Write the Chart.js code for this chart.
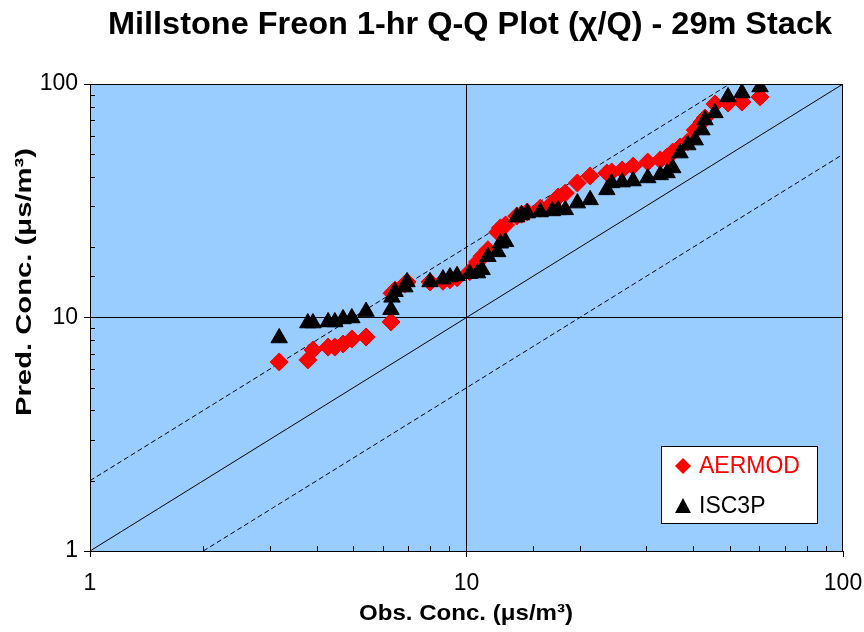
<!DOCTYPE html>
<html>
<head>
<meta charset="utf-8">
<script src="https://cdn.jsdelivr.net/npm/chart.js@4.4.0/dist/chart.umd.min.js"></script>
<style>
  html, body { margin: 0; padding: 0; background: #fff; }
</style>
</head>
<body>
<canvas id="qqChart" width="864" height="632"></canvas>
<script>
// ===== Q-Q PLOT DATA (sorted observed vs sorted predicted) =====
const obsConc = [3.18, 3.79, 3.91, 4.29, 4.47, 4.70, 4.96, 5.41, 6.30, 6.34,
  6.46, 6.86, 6.95, 8.00, 8.66, 9.04, 9.44, 10.2, 10.7, 11.0,
  11.4, 12.1, 12.3, 12.7, 13.6, 14.0, 14.5, 15.7, 16.9, 17.5,
  18.3, 19.7, 21.3, 23.6, 24.3, 25.9, 27.7, 30.3, 32.7, 34.1,
  35.3, 36.9, 38.7, 40.5, 42.2, 43.0, 45.7, 49.5, 53.9, 60.2];

const aermodPred = [6.45, 6.58, 7.26, 7.47, 7.47, 7.70, 8.09, 8.25, 9.57, 12.7,
  13.1, 13.9, 14.2, 14.2, 14.3, 14.5, 14.8, 15.7, 17.3, 18.3,
  19.5, 23.2, 24.2, 24.9, 27.2, 27.7, 28.3, 29.4, 30.9, 32.8,
  34.1, 37.7, 40.4, 41.6, 42.0, 42.8, 44.5, 46.3, 47.3, 48.7,
  51.1, 53.7, 56.5, 63.5, 68.7, 71.5, 82.1, 82.9, 83.7, 88.0];

const isc3pPred = [8.17, 9.47, 9.47, 9.57, 9.57, 9.86, 9.95, 10.6, 10.8, 12.2,
  12.9, 13.5, 14.2, 14.2, 14.6, 14.9, 15.1, 15.4, 15.5, 16.0,
  18.2, 19.1, 20.8, 21.1, 26.9, 27.5, 28.0, 28.3, 28.6, 28.9,
  28.9, 30.9, 31.9, 35.2, 37.7, 38.0, 38.4, 39.6, 40.8, 41.6,
  43.7, 50.6, 54.8, 57.5, 63.5, 70.1, 75.2, 88.0, 91.5, 97.1];

// reference lines: 1:1 and factor-of-two
const oneToOne = [[1, 1], [100, 100]];
const factorTwoUpper = [[1, 2], [50, 100]];
const factorTwoLower = [[2, 1], [100, 50]];

const majorTicks = [1, 10, 100];

const FONT = "'Liberation Sans', Arial, sans-serif";

function isMajor(v) {
  return majorTicks.some(m => Math.abs(m - v) < 1e-9);
}

function toXY(pairs) {
  return pairs.map(p => ({ x: p[0], y: p[1] }));
}

// draw text squeezed/stretched to a given width
function fitText(ctx, text, x, y, width) {
  const w = ctx.measureText(text).width;
  ctx.save();
  ctx.translate(x, y);
  ctx.scale(width / w, 1);
  ctx.fillText(text, 0, 0);
  ctx.restore();
}

const plotDecor = {
  id: "plotDecor",
  beforeDraw(chart) {
    const { ctx, chartArea: a } = chart;
    ctx.save();
    ctx.fillStyle = "#99ccff";
    ctx.fillRect(a.left, a.top, a.right - a.left, a.bottom - a.top);
    ctx.restore();
  },
  afterDraw(chart) {
    const { ctx, chartArea: a, scales } = chart;
    ctx.save();

    // frame
    ctx.strokeStyle = "#000";
    ctx.lineWidth = 1;
    ctx.strokeRect(a.left + 0.5, a.top + 0.5, a.right - a.left - 1, a.bottom - a.top);

    // minor ticks point inward
    ctx.beginPath();
    scales.x.ticks.forEach(t => {
      if (isMajor(t.value)) return;
      const px = Math.round(scales.x.getPixelForValue(t.value)) + 0.5;
      ctx.moveTo(px, a.bottom);
      ctx.lineTo(px, a.bottom - 5);
    });
    scales.y.ticks.forEach(t => {
      if (isMajor(t.value)) return;
      const py = Math.round(scales.y.getPixelForValue(t.value)) + 0.5;
      ctx.moveTo(a.left, py);
      ctx.lineTo(a.left + 5, py);
    });
    ctx.stroke();

    // title
    ctx.fillStyle = "#000";
    ctx.textAlign = "center";
    ctx.textBaseline = "alphabetic";
    ctx.font = "bold 32px " + FONT;
    fitText(ctx, "Millstone Freon 1-hr Q-Q Plot (\u03c7/Q) - 29m Stack", 470, 34, 724);

    // axis titles
    ctx.font = "bold 22px " + FONT;
    fitText(ctx, "Obs. Conc. (\u03bcs/m\u00b3)", 466, 620, 214);
    ctx.save();
    ctx.translate(31, 282);
    ctx.rotate(-Math.PI / 2);
    fitText(ctx, "Pred. Conc. (\u03bcs/m\u00b3)", 0, 0, 268);
    ctx.restore();

    // legend box
    const lx = 661, ly = 446, lw = 156, lh = 77;
    ctx.fillStyle = "#fff";
    ctx.fillRect(lx, ly, lw, lh);
    ctx.strokeStyle = "#000";
    ctx.strokeRect(lx + 0.5, ly + 0.5, lw, lh);

    ctx.font = "23px " + FONT;
    ctx.textAlign = "left";
    ctx.textBaseline = "middle";
    ctx.fillStyle = "#ff0000";
    ctx.beginPath();
    ctx.moveTo(683, 458); ctx.lineTo(691, 466); ctx.lineTo(683, 474); ctx.lineTo(675, 466);
    ctx.closePath();
    ctx.fill();
    ctx.fillText("AERMOD", 699, 467);

    ctx.fillStyle = "#000";
    ctx.beginPath();
    ctx.moveTo(683, 498); ctx.lineTo(691, 513); ctx.lineTo(675, 513);
    ctx.closePath();
    ctx.fill();
    ctx.fillText("ISC3P", 699, 507);

    ctx.restore();
  }
};

const lineStyle = {
  type: "line",
  showLine: true,
  fill: false,
  pointRadius: 0,
  borderColor: "#000",
  borderWidth: 1,
  order: 3
};

new Chart(document.getElementById("qqChart").getContext("2d"), {
  type: "scatter",
  data: {
    datasets: [
      {
        label: "ISC3P",
        data: obsConc.map((x, i) => ({ x: x, y: isc3pPred[i] })),
        pointStyle: "triangle",
        pointRadius: 9.5,
        backgroundColor: "#000",
        borderColor: "#000",
        borderWidth: 1,
        order: 0
      },
      {
        label: "AERMOD",
        data: obsConc.map((x, i) => ({ x: x, y: aermodPred[i] })),
        pointStyle: "rectRot",
        pointRadius: 9,
        backgroundColor: "#ff0000",
        borderColor: "#ff0000",
        borderWidth: 1,
        order: 1
      },
      Object.assign({ label: "1:1", data: toXY(oneToOne) }, lineStyle),
      Object.assign({ label: "2:1", data: toXY(factorTwoUpper), borderDash: [5, 3] }, lineStyle),
      Object.assign({ label: "1:2", data: toXY(factorTwoLower), borderDash: [5, 3] }, lineStyle)
    ]
  },
  options: {
    responsive: false,
    animation: false,
    layout: { padding: { top: 84, right: 21, left: 0, bottom: 0 } },
    plugins: {
      legend: { display: false },
      tooltip: { enabled: false },
      title: { display: false }
    },
    scales: {
      x: {
        type: "logarithmic",
        min: 1,
        max: 100,
        afterFit: s => { s.height = 81; s.paddingLeft = 0; s.paddingRight = 0; },
        border: { display: true, color: "#000", width: 1 },
        grid: {
          color: c => (c.tick && c.tick.value === 10 ? "#000" : "rgba(0,0,0,0)"),
          tickColor: c => (c.tick && isMajor(c.tick.value) ? "#000" : "rgba(0,0,0,0)"),
          tickLength: 6,
          lineWidth: 1
        },
        ticks: {
          autoSkip: false,
          maxRotation: 0,
          padding: 13,
          color: "#000",
          font: { size: 23, family: FONT },
          callback: v => (isMajor(v) ? String(v) : "")
        }
      },
      y: {
        type: "logarithmic",
        min: 1,
        max: 100,
        afterFit: s => { s.width = 90; s.paddingTop = 0; s.paddingBottom = 0; },
        border: { display: true, color: "#000", width: 1 },
        grid: {
          color: c => (c.tick && c.tick.value === 10 ? "#000" : "rgba(0,0,0,0)"),
          tickColor: c => (c.tick && isMajor(c.tick.value) ? "#000" : "rgba(0,0,0,0)"),
          tickLength: 6,
          lineWidth: 1
        },
        ticks: {
          autoSkip: false,
          padding: 6,
          color: "#000",
          font: { size: 23, family: FONT },
          callback: v => (isMajor(v) ? String(v) : "")
        }
      }
    }
  },
  plugins: [plotDecor]
});
</script>
</body>
</html>
